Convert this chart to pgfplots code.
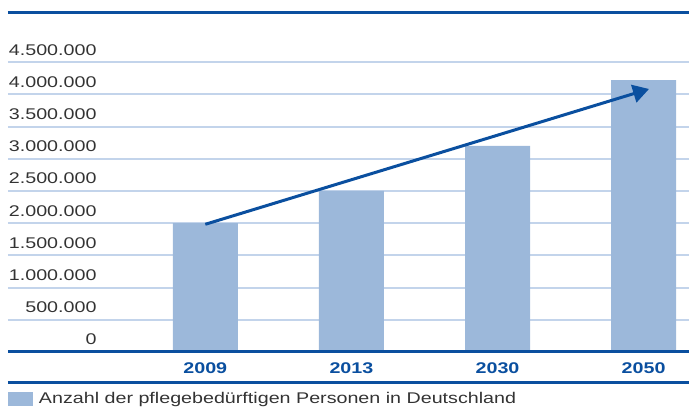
\documentclass[border=0pt]{standalone}
\usepackage{pgfplots}
\pgfplotsset{compat=1.18}
\usetikzlibrary{arrows.meta}
\usepackage{fontspec}
\setmainfont{Liberation Sans}[FakeStretch=1.27]
\definecolor{lineblue}{HTML}{0A4F9F}
\definecolor{barblue}{HTML}{9CB8DA}
\definecolor{gridblue}{HTML}{C3D4EB}
\definecolor{txt}{HTML}{333333}
\newcommand{\chartfont}{\fontsize{15.5pt}{18pt}\selectfont}
\begin{document}
\begin{tikzpicture}
\useasboundingbox (0,0) rectangle (689pt,410pt);
\begin{axis}[
  at={(8pt,58pt)}, anchor=south west,
  scale only axis, width=681pt, height=339pt,
  xmin=-1.3505, xmax=3.3107,
  ymin=0, ymax=5264000,
  axis line style={draw=none},
  major tick length=0pt,
  xtick={0,1,2,3},
  xticklabels={2009,2013,2030,2050},
  xticklabel style={font=\chartfont\bfseries, text=lineblue, anchor=base, inner sep=0pt, yshift=-21.3pt},
  ytick={0,500000,1000000,1500000,2000000,2500000,3000000,3500000,4000000,4500000},
  yticklabels={0,500.000,1.000.000,1.500.000,2.000.000,2.500.000,3.000.000,3.500.000,4.000.000,4.500.000},
  yticklabel style={font=\chartfont, text=txt, anchor=base east, inner sep=0pt, xshift=88.7pt, yshift=7pt},
  scaled y ticks=false,
  ymajorgrids,
  major grid style={draw=gridblue, line width=2pt},
  clip=false,
  legend style={at={(axis description cs:0,-0.118)}, anchor=north west, draw=none, fill=none,
    inner sep=0pt, outer sep=0pt, font=\chartfont, text=txt,
    nodes={inner sep=0pt}, column sep=6pt},
  legend image code/.code={\fill[barblue] (0pt,-7pt) rectangle (25pt,7pt);},
]
\addplot[ybar, bar width=65pt, fill=barblue, draw=none] coordinates {(0,2000000) (1,2500000) (2,3200000) (3,4220000)};
\addlegendentry{Anzahl der pflegebedürftigen Personen in Deutschland}
\addplot[lineblue, line width=3pt, -{Triangle[length=16pt,width=18pt]}, forget plot] coordinates {(0,1983000) (3.037,4084000)};
\draw[lineblue, line width=3pt] (rel axis cs:0,0) -- (rel axis cs:1,0);
\draw[lineblue, line width=3pt] (rel axis cs:0,1) -- (rel axis cs:1,1);
\draw[lineblue, line width=3pt] (rel axis cs:0,-0.0914) -- (rel axis cs:1,-0.0914);
\end{axis}
\end{tikzpicture}
\end{document}
